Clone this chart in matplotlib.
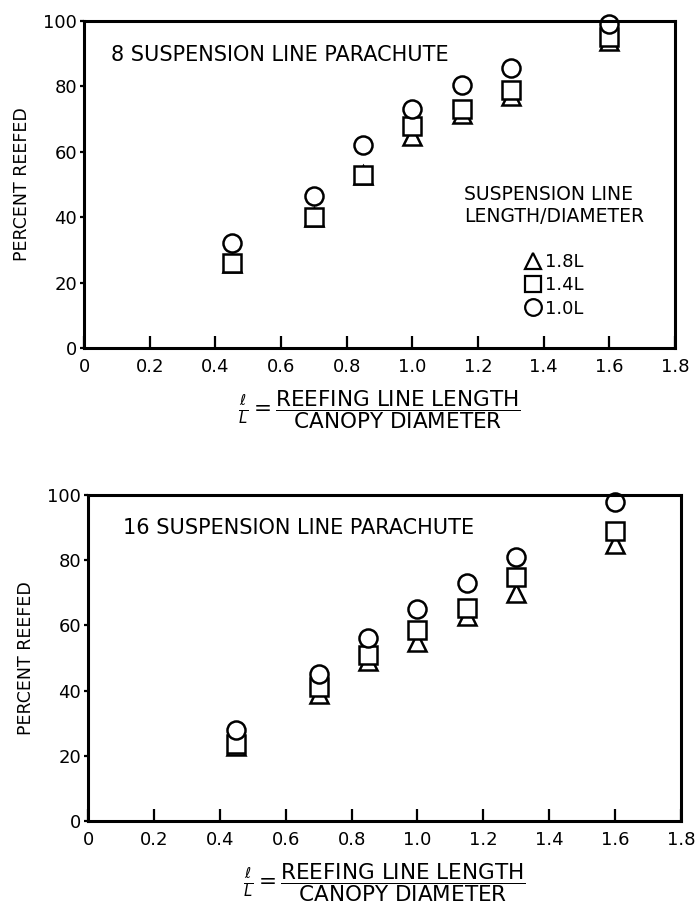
#!/usr/bin/env python3
"""Percent reefed vs reefing line length ratio, 8 and 16 suspension line parachutes."""

import matplotlib
matplotlib.use('Agg')
import matplotlib.pyplot as plt
from matplotlib.lines import Line2D

plt.rcParams.update({
    'font.family': 'DejaVu Sans',
    'font.size': 12,
    'mathtext.fontset': 'dejavusans',
})

# reefing line length / canopy diameter
ratio = [0.45, 0.70, 0.85, 1.00, 1.15, 1.30, 1.60]

# 8 suspension line parachute
p8_18L = [26, 40, 53, 65, 71.5, 77, 94]
p8_14L = [26, 40, 53, 68, 73, 79, 95]
p8_10L = [32, 46.5, 62, 73, 80.5, 85.5, 99]

# 16 suspension line parachute
p16_18L = [23, 39, 49, 55, 63, 70, 85]
p16_14L = [23.5, 41, 51, 58.5, 65.5, 75, 89]
p16_10L = [28, 45, 56, 65, 73, 81, 98]

x_ticks = [0, 0.2, 0.4, 0.6, 0.8, 1.0, 1.2, 1.4, 1.6, 1.8]
x_ticklabels = ['0', '0.2', '0.4', '0.6', '0.8', '1.0', '1.2', '1.4', '1.6', '1.8']
y_ticks = [0, 20, 40, 60, 80, 100]

series_labels = ['1.8L', '1.4L', '1.0L']
markers = ['^', 's', 'o']

XLABEL = (r'$\frac{\ell}{L}=\dfrac{\mathrm{REEFING\ LINE\ LENGTH}}'
          r'{\mathrm{CANOPY\ DIAMETER}}$')


def draw_panel(ax, series, title, title_xy):
    for vals, m in zip(series, markers):
        ax.plot(ratio, vals, linestyle='none', marker=m,
                markersize=13 if m == 'o' else 12.5,
                markerfacecolor='white', markeredgecolor='black', markeredgewidth=1.8,
                clip_on=False)
    ax.set_xlim(0, 1.8)
    ax.set_ylim(0, 100)
    ax.set_xticks(x_ticks)
    ax.set_xticklabels(x_ticklabels)
    ax.set_yticks(y_ticks)
    ax.tick_params(axis='x', direction='in', length=9, width=1.6, labelsize=13, pad=7)
    ax.tick_params(axis='y', direction='out', length=3, width=1.6, labelsize=13, pad=2)
    for sp in ax.spines.values():
        sp.set_linewidth(2.2)
    ax.set_ylabel('PERCENT REEFED', fontsize=12.5, labelpad=9)
    ax.set_xlabel(XLABEL, fontsize=15.5, labelpad=9)
    ax.text(title_xy[0], title_xy[1], title, transform=ax.transAxes, fontsize=15,
            ha='left', va='center')


fig = plt.figure(figsize=(6.99, 9.08), dpi=100)
ax1 = fig.add_axes([0.1202, 0.6167, 0.8455, 0.3601])
ax2 = fig.add_axes([0.1259, 0.0958, 0.8484, 0.3590])

draw_panel(ax1, [p8_18L, p8_14L, p8_10L], '8 SUSPENSION LINE PARACHUTE', (0.046, 0.896))
draw_panel(ax2, [p16_18L, p16_14L, p16_10L], '16 SUSPENSION LINE PARACHUTE', (0.059, 0.899))

handles = [Line2D([], [], linestyle='none', marker=m, markersize=12,
                  markerfacecolor='white', markeredgecolor='black',
                  markeredgewidth=1.6) for m in markers]
leg = ax1.legend(handles, series_labels, title='SUSPENSION LINE\nLENGTH/DIAMETER\n',
                 frameon=False, loc='upper left', bbox_to_anchor=(0.643, 0.50),
                 borderpad=0, borderaxespad=0,
                 fontsize=13, title_fontsize=13.5, handletextpad=0.15,
                 labelspacing=0.3, handlelength=1.0)

fig.savefig('out.png', dpi=100)
